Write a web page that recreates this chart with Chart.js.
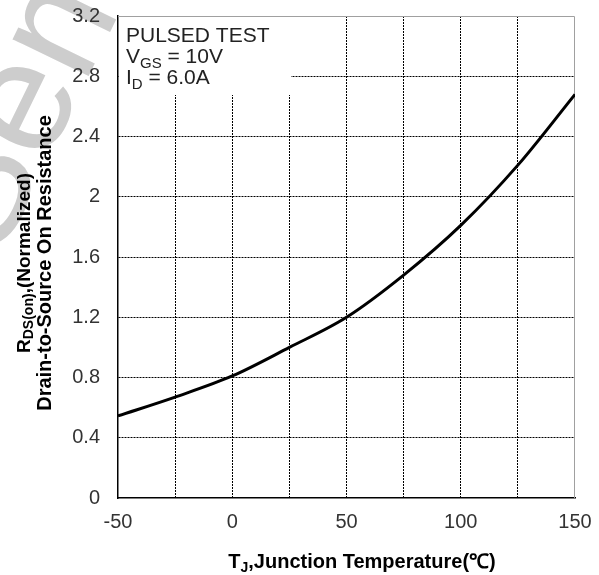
<!DOCTYPE html>
<html>
<head>
<meta charset="utf-8">
<script src="https://cdn.jsdelivr.net/npm/chart.js@4.4.0/dist/chart.umd.min.js"></script>
<style>
  html, body { margin: 0; padding: 0; background: #fff; }
  #wrap { width: 599px; height: 575px; }
</style>
</head>
<body>
<div id="wrap"><canvas id="rdsGraph"></canvas></div>
<script>
// junction temperature (deg C) and normalized on-resistance
const tempC = [-50, -25, 0, 25, 50, 75, 100, 125, 150];
const rdsNorm = [0.545, 0.67, 0.81, 1.0, 1.2, 1.48, 1.81, 2.21, 2.68];
const xTickLabels = [-50, 0, 50, 100, 150];
const noteLines = [
  [{ t: 'PULSED TEST' }],
  [{ t: 'V' }, { t: 'GS', sub: true }, { t: ' = 10V' }],
  [{ t: 'I' }, { t: 'D', sub: true }, { t: ' = 6.0A' }]
];

const FONT = 'Arial, "Liberation Sans", sans-serif';

// draw a run of text pieces, some of them subscript
function drawRich(ctx, parts, x, y, size, bold, align) {
  const big = (bold ? 'bold ' : '') + size + 'px ' + FONT;
  const small = (bold ? 'bold ' : '') + Math.round(size * 0.72) + 'px ' + FONT;
  let total = 0;
  parts.forEach(p => { ctx.font = p.sub ? small : big; total += ctx.measureText(p.t).width; });
  let cx = align === 'center' ? x - total / 2 : x;
  ctx.textAlign = 'left';
  parts.forEach(p => {
    ctx.font = p.sub ? small : big;
    ctx.fillText(p.t, cx, p.sub ? y + size * 0.22 : y);
    cx += ctx.measureText(p.t).width;
  });
}

const watermark = {
  id: 'watermark',
  beforeDraw(chart) {
    const ctx = chart.ctx;
    ctx.save();
    ctx.translate(-2, 262);
    ctx.rotate(-64 * Math.PI / 180);
    ctx.font = '160px ' + FONT;
    ctx.fillStyle = '#cdcdcd';
    ctx.textBaseline = 'alphabetic';
    ctx.fillText('Semi', 0, 0);
    ctx.restore();
  }
};

const frame = {
  id: 'frame',
  beforeDatasetsDraw(chart) {
    const { ctx, chartArea: a } = chart;
    ctx.save();
    // box behind the test conditions
    ctx.fillStyle = '#fff';
    ctx.fillRect(a.left + 1, a.top + 1, 172, 78);
    // light top/right frame
    ctx.strokeStyle = '#a0a0a0';
    ctx.lineWidth = 1;
    ctx.beginPath();
    ctx.moveTo(a.left, a.top + 0.5);
    ctx.lineTo(a.right - 0.5, a.top + 0.5);
    ctx.lineTo(a.right - 0.5, a.bottom);
    ctx.stroke();
    ctx.restore();
  },
  afterDraw(chart) {
    const { ctx, chartArea: a } = chart;
    ctx.save();
    ctx.fillStyle = '#222';
    ctx.textBaseline = 'alphabetic';
    noteLines.forEach((line, i) => drawRich(ctx, line, a.left + 8, a.top + 26 + i * 21, 21, false, 'left'));

    ctx.fillStyle = '#000';
    // x axis title
    drawRich(ctx, [{ t: 'T' }, { t: 'J', sub: true }, { t: ',Junction Temperature(℃)' }],
      362, 568, 20, true, 'center');
    // y axis title, two lines
    ctx.translate(0, 263);
    ctx.rotate(-Math.PI / 2);
    ctx.textBaseline = 'middle';
    drawRich(ctx, [{ t: 'R' }, { t: 'DS(on)', sub: true }, { t: ',(Normalized)' }], 0, 25, 19, true, 'center');
    drawRich(ctx, [{ t: 'Drain-to-Source On Resistance' }], 0, 45, 20, true, 'center');
    ctx.restore();
  }
};

const edge = (v, ends) => ends.some(e => Math.abs(v - e) < 1e-6);

// keep the plot box fixed: drop the extra room Chart.js reserves for edge labels
function fixBox(scale, key, size) {
  scale[key] = size;
  scale.paddingTop = 0;
  scale.paddingRight = 0;
  scale.paddingLeft = 0;
  scale.paddingBottom = 0;
}

new Chart(document.getElementById('rdsGraph'), {
  type: 'line',
  data: {
    datasets: [{
      data: tempC.map((t, i) => ({ x: t, y: rdsNorm[i] })),
      borderColor: '#000',
      borderWidth: 3,
      pointRadius: 0,
      fill: false,
      cubicInterpolationMode: 'monotone'
    }]
  },
  options: {
    responsive: true,
    maintainAspectRatio: false,
    animation: false,
    layout: { padding: { top: 16, right: 24, left: 0, bottom: 0 } },
    plugins: { legend: { display: false }, tooltip: { enabled: false } },
    scales: {
      x: {
        type: 'linear',
        min: -50,
        max: 150,
        afterFit(scale) { fixBox(scale, 'height', 77); },
        ticks: {
          stepSize: 25,
          autoSkip: false,
          maxRotation: 0,
          padding: 12,
          color: '#333',
          font: { family: FONT, size: 20 },
          callback: v => (xTickLabels.includes(v) ? String(v) : '')
        },
        grid: {
          drawTicks: false,
          color: c => (c.tick && edge(c.tick.value, [-50, 150]) ? 'rgba(0,0,0,0)' : '#000'),
          lineWidth: 1
        },
        border: { display: true, color: '#000', width: 1.5, dash: [2, 1] }
      },
      y: {
        min: 0,
        max: 3.2,
        afterFit(scale) { fixBox(scale, 'width', 118); },
        ticks: {
          stepSize: 0.4,
          padding: 18,
          color: '#333',
          font: { family: FONT, size: 20 },
          callback: v => String(Math.round(v * 10) / 10)
        },
        grid: {
          drawTicks: false,
          color: c => (c.tick && edge(c.tick.value, [0, 3.2]) ? 'rgba(0,0,0,0)' : '#000'),
          lineWidth: 1
        },
        border: { display: true, color: '#000', width: 1.5, dash: [2, 1] }
      }
    }
  },
  plugins: [watermark, frame]
});
</script>
</body>
</html>
